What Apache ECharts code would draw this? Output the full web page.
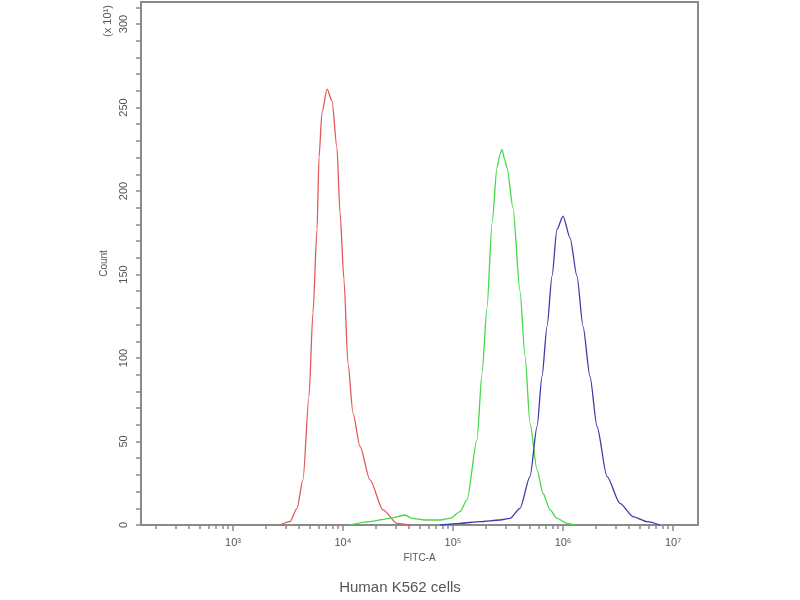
<!DOCTYPE html>
<html>
<head>
<meta charset="utf-8">
<script src="https://cdn.jsdelivr.net/npm/echarts@6/dist/echarts.min.js"></script>
<style>html,body{margin:0;padding:0;background:#fff}#c{width:800px;height:600px}</style>
</head>
<body>
<div id="c"></div>
<script>
// x values are log10(FITC-A intensity); y values are Count (x 10^1)
const redX = [3.427, 3.518, 3.582, 3.636, 3.691, 3.727, 3.764, 3.782, 3.809, 3.855, 3.9, 3.945, 3.973, 4.009, 4.045, 4.091, 4.155, 4.245, 4.364, 4.491, 4.609];
const redY = [0, 2, 10, 27, 77, 127, 177, 220, 247, 261, 254, 226, 187, 147, 97, 67, 47, 27, 9, 1, 0];
const greenX = [4.064, 4.245, 4.427, 4.564, 4.627, 4.745, 4.882, 4.973, 5.064, 5.127, 5.218, 5.264, 5.309, 5.355, 5.4, 5.427, 5.445, 5.473, 5.491, 5.545, 5.609, 5.655, 5.7, 5.764, 5.818, 5.882, 5.945, 6.036, 6.109];
const greenY = [0, 2, 4, 6, 4, 3, 3, 4, 8, 15, 51, 91, 130, 181, 214, 222, 225, 218, 214, 190, 140, 101, 61, 33, 19, 9, 4, 1, 0];
const blueX = [4.882, 5.064, 5.245, 5.427, 5.518, 5.609, 5.7, 5.764, 5.809, 5.855, 5.9, 5.945, 6.0, 6.064, 6.127, 6.182, 6.245, 6.309, 6.4, 6.518, 6.636, 6.764, 6.882];
const blueY = [0, 1, 2, 3, 4, 10, 29, 59, 89, 119, 149, 177, 185, 172, 149, 119, 89, 59, 29, 13, 5, 2, 0];
const xDecades = [3, 4, 5, 6, 7];
const xTickLabels = ['10³', '10⁴', '10⁵', '10⁶', '10⁷'];
const yLabelValues = [0, 50, 100, 150, 200, 250, 300];
const yMinorValues = [0,10,20,30,40,50,60,70,80,90,100,110,120,130,140,150,160,170,180,190,200,210,220,230,240,250,260,270,280,290,300,310];
const xMin = 2.164, xMax = 7.227, yMax = 313.2;

const xMinor = [];
for (let d = 2; d <= 7; d++) {
  for (let k = 2; k <= 9; k++) {
    const v = d + Math.log10(k);
    if (v > xMin && v < xMax) xMinor.push(v);
  }
}
const zip = (xs, ys) => xs.map((x, i) => [x, ys[i]]);
const gray = '#8a8a8a';
const txt = '#555';

const chart = echarts.init(document.getElementById('c'));
chart.setOption({
  animation: false,
  backgroundColor: '#fff',
  title: {
    text: 'Human K562 cells', left: 'center', bottom: 0,
    textStyle: { fontFamily: 'Liberation Sans', fontSize: 15, fontWeight: 'normal', color: txt }
  },
  grid: { left: 141, right: 102, top: 2, bottom: 75, show: true, borderColor: gray, borderWidth: 2, backgroundColor: '#fff' },
  graphic: [{
    type: 'text', x: 108, y: 21, rotation: Math.PI / 2,
    style: { text: '(x 10¹)', fontFamily: 'Liberation Sans', fontSize: 11, fill: txt, align: 'center', verticalAlign: 'middle' }
  }],
  xAxis: [{
    type: 'value', min: xMin, max: xMax,
    name: 'FITC-A', nameLocation: 'middle', nameGap: 26,
    nameTextStyle: { fontFamily: 'Liberation Sans', fontSize: 10, color: txt },
    axisLine: { show: true, lineStyle: { color: gray, width: 2 } },
    axisTick: { show: true, customValues: xDecades, length: 6, lineStyle: { color: gray, width: 1.5 } },
    axisLabel: { customValues: xDecades, formatter: v => xTickLabels[xDecades.indexOf(Math.round(v))], fontFamily: 'Liberation Sans', fontSize: 11, color: txt, margin: 12 },
    splitLine: { show: false }
  }, {
    type: 'value', min: xMin, max: xMax, position: 'bottom',
    axisLine: { show: false },
    axisTick: { show: true, customValues: xMinor, length: 4, lineStyle: { color: gray, width: 1.5 } },
    axisLabel: { show: false }, splitLine: { show: false }
  }],
  yAxis: [{
    type: 'value', min: 0, max: yMax,
    name: 'Count', nameLocation: 'middle', nameGap: 32, nameRotate: 90,
    nameTextStyle: { fontFamily: 'Liberation Sans', fontSize: 10, color: txt },
    axisLine: { show: true, lineStyle: { color: gray, width: 2 } },
    axisTick: { show: true, customValues: yMinorValues, length: 5, lineStyle: { color: gray, width: 1.5 } },
    axisLabel: { customValues: yLabelValues, rotate: 90, fontFamily: 'Liberation Sans', fontSize: 11, color: txt, margin: 12 },
    splitLine: { show: false }
  }],
  series: [
    { type: 'line', data: zip(redX, redY), showSymbol: false, smooth: 0.25, smoothMonotone: 'x', lineStyle: { color: '#e05a5a', width: 1.3 }, itemStyle: { color: '#e05a5a' } },
    { type: 'line', data: zip(greenX, greenY), showSymbol: false, smooth: 0.25, smoothMonotone: 'x', lineStyle: { color: '#46d846', width: 1.3 }, itemStyle: { color: '#46d846' } },
    { type: 'line', data: zip(blueX, blueY), showSymbol: false, smooth: 0.25, smoothMonotone: 'x', lineStyle: { color: '#3c3ca8', width: 1.3 }, itemStyle: { color: '#3c3ca8' } }
  ]
});
</script>
</body>
</html>
